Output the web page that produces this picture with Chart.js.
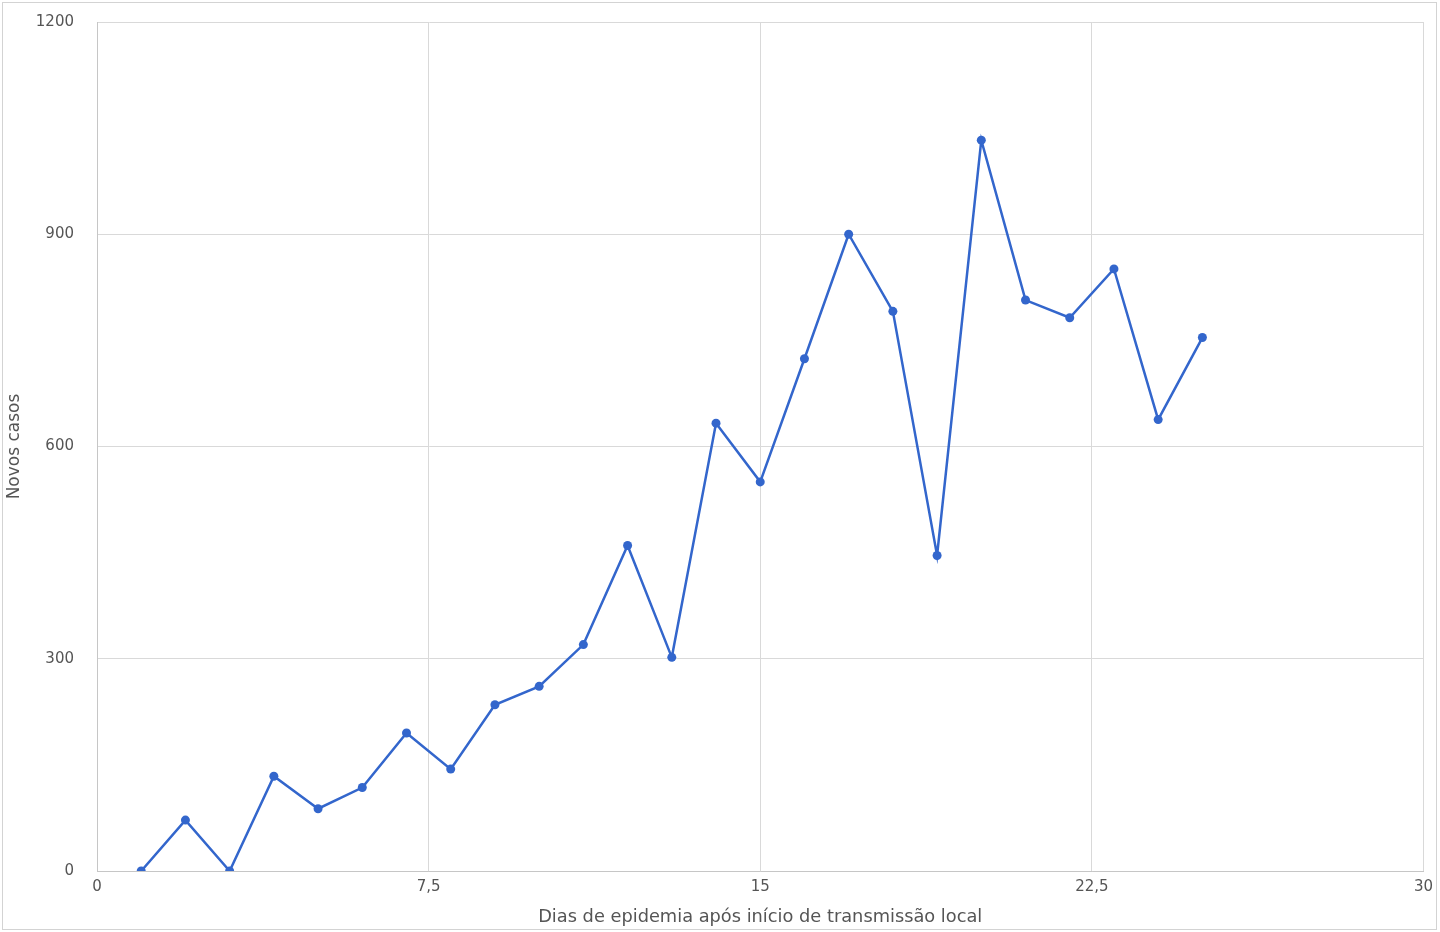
<!DOCTYPE html>
<html>
<head>
<meta charset="utf-8">
<script src="https://cdn.jsdelivr.net/npm/chart.js@4"></script>
<style>
    html, body { margin: 0; padding: 0; background: #fff; }
    .wrap { position: relative; width: 1440px; height: 932px; }
    .frame { position: absolute; left: 2px; top: 2px; width: 1433px; height: 926px; border: 1px solid #d3d3d3; pointer-events: none; }
    canvas { display: block; }
</style>
</head>
<body>
<div class="wrap">
    <canvas id="myChart" width="1440" height="932"></canvas>
    <div class="frame"></div>
</div>
<script>
// dados
var days = [1, 2, 3, 4, 5, 6, 7, 8, 9, 10, 11, 12, 13, 14, 15, 16, 17, 18, 19, 20, 21, 22, 23, 24, 25];
var newCases = [0, 72, 0, 134, 88, 118, 195, 144, 235, 261, 320, 460, 302, 633, 550, 724, 900, 791, 446, 1033, 807, 782, 851, 638, 754];
var xTickLabels = ['0', '7,5', '15', '22,5', '30'];
var yTickLabels = ['0', '300', '600', '900', '1200'];

var points = days.map(function(d, i) {
    return { x: d, y: newCases[i] };
});

var textColor = '#555555';
var font = { family: 'DejaVu Sans', size: 15 };

var ctx = document.getElementById('myChart').getContext('2d');
var myChart = new Chart(ctx, {
    type: 'line',
    data: {
        datasets: [{
            label: 'Novos casos',
            data: points,
            borderColor: '#3366cc',
            backgroundColor: '#3366cc',
            borderWidth: 2.5,
            pointRadius: 4.5,
            pointBorderWidth: 0,
            tension: 0
        }]
    },
    options: {
        responsive: false,
        animation: false,
        layout: {
            padding: { left: 0, top: 22, right: 16, bottom: 0 }
        },
        plugins: {
            legend: { display: false },
            tooltip: { enabled: false }
        },
        scales: {
            x: {
                type: 'linear',
                min: 0,
                max: 30,
                afterFit: function(scale) { scale.height = 61; },
                ticks: {
                    stepSize: 7.5,
                    color: textColor,
                    font: font,
                    padding: 7,
                    maxRotation: 0,
                    callback: function(v, i) { return xTickLabels[i]; }
                },
                grid: { color: '#d9d9d9', lineWidth: 1, drawTicks: false },
                border: { color: '#c6c6c6', width: 1 },
                title: {
                    display: true,
                    text: 'Dias de epidemia após início de transmissão local',
                    color: textColor,
                    font: { family: 'DejaVu Sans', size: 17.8 },
                    padding: { top: 0, bottom: 4 }
                }
            },
            y: {
                min: 0,
                max: 1200,
                afterFit: function(scale) {
                    scale.width = 97;
                    scale.paddingTop = 0;
                    scale.paddingBottom = 0;
                },
                ticks: {
                    stepSize: 300,
                    color: textColor,
                    font: font,
                    padding: 23,
                    callback: function(v, i) { return yTickLabels[i]; }
                },
                grid: { color: '#d9d9d9', lineWidth: 1, drawTicks: false },
                border: { color: '#c6c6c6', width: 1 },
                title: {
                    display: true,
                    text: 'Novos casos',
                    color: textColor,
                    font: { family: 'DejaVu Sans', size: 17 },
                    padding: { top: 4, bottom: 0 }
                }
            }
        }
    }
});
</script>
</body>
</html>
